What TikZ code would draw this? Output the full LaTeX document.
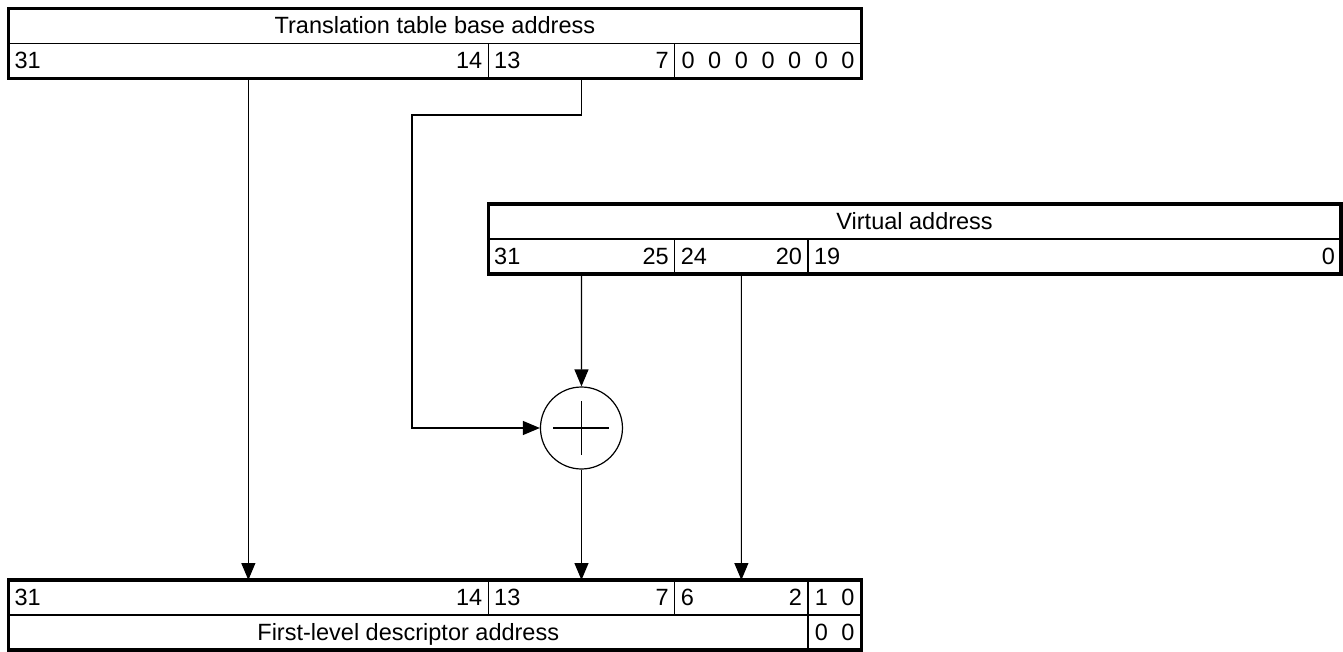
\documentclass[tikz,border=0pt]{standalone}
\usepackage{fontspec}
\setmainfont{Liberation Sans}
\usetikzlibrary{positioning,arrows.meta}

\newcommand{\bitw}{26.65pt}

\begin{document}
\begin{tikzpicture}[x=1pt, y=-1pt,
  font=\fontsize{23.5}{28}\selectfont,
  cell/.style={draw, line width=1.2pt, inner sep=0pt, outer sep=0pt,
    minimum height=35pt, text height=17pt, text depth=1pt},
  title/.style={cell, minimum width=#1*\bitw},
  bits/.style={cell, minimum width=#1*\bitw, text width=#1*\bitw-12pt},
  digit/.style={inner sep=0pt, text height=17pt, text depth=1pt},
  frame/.style={line width=3.4pt},
  sum/.style={circle, draw, line width=1.2pt, minimum size=82pt, inner sep=0pt},
  arr/.style={-{Triangle[length=17pt, width=14pt]}, line width=1.2pt}]

  \useasboundingbox (0,0) rectangle (1343,652);

  % translation table base
  \node[title=32, anchor=north west] (ttb) at (8.5,8.5) {Translation table base address};
  \node[bits=18, anchor=north west] (ttbhi) at (ttb.south west) {31\hfill 14};
  \node[bits=7, right=0pt of ttbhi] (ttbmid) {13\hfill 7};
  \node[bits=7, right=0pt of ttbmid] (ttblo) {};
  \foreach \i in {0,...,6}
    \node[digit] (tz\i) at ([xshift={(\i+0.5)*26.65}]ttblo.west) {0};
  \draw[frame] (ttb.north west) rectangle (ttblo.south east);

  % virtual address
  \node[title=32, anchor=north west] (va) at (488.2,204) {Virtual address};
  \node[bits=7, anchor=north west] (vahi) at (va.south west) {31\hfill 25};
  \node[bits=5, right=0pt of vahi] (vamid) {24\hfill 20};
  \node[bits=20, right=0pt of vamid] (valo) {19\hfill 0};
  \draw[frame] (va.north west) rectangle (valo.south east);

  % first-level descriptor
  \node[bits=18, anchor=north west] (fdhi) at (8.5,580) {31\hfill 14};
  \node[bits=7, right=0pt of fdhi] (fdmid) {13\hfill 7};
  \node[bits=5, right=0pt of fdmid] (fdidx) {6\hfill 2};
  \node[bits=2, right=0pt of fdidx] (fdlo) {};
  \node[title=30, anchor=north west] (fd) at (fdhi.south west) {First-level descriptor address};
  \node[title=2, right=0pt of fd] (fdzero) {};
  \node[digit] (fb1) at ([xshift=0.5*26.65]fdlo.west) {1};
  \node[digit] (fb0) at ([xshift=1.5*26.65]fdlo.west) {0};
  \node[digit] (fz1) at ([xshift=0.5*26.65]fdzero.west) {0};
  \node[digit] (fz0) at ([xshift=1.5*26.65]fdzero.west) {0};
  \draw[frame] (fdhi.north west) rectangle (fdzero.south east);

  % adder
  \coordinate (sumy) at (0,428);
  \node[sum] (sum) at (ttbmid |- sumy) {};
  \draw[line width=1.2pt] ([xshift=-28pt]sum.center) -- ([xshift=28pt]sum.center);
  \draw[line width=1.2pt] ([yshift=-27pt]sum.center) -- ([yshift=27pt]sum.center);

  \coordinate (bend) at (412,115);
  \draw[arr] (ttbhi.south) -- (fdhi.north);
  \draw[arr] (ttbmid.south) |- (bend) |- (sum.west);
  \draw[arr] (vahi.south) -- (sum.north);
  \draw[arr] (sum.south) -- (fdmid.north);
  \draw[arr] (vamid.south) -- (fdidx.north);
\end{tikzpicture}
\end{document}
